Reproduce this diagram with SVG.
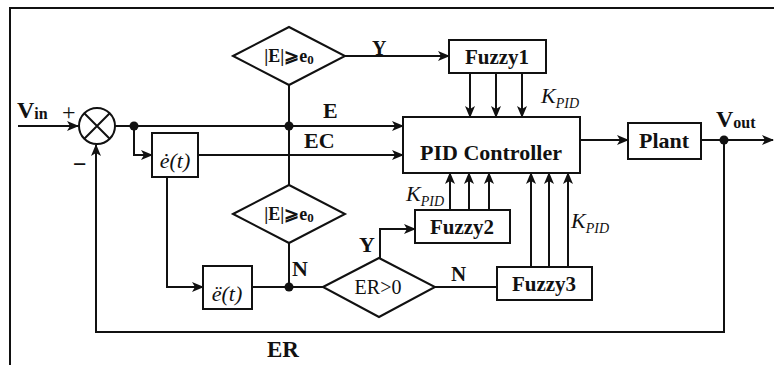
<svg xmlns="http://www.w3.org/2000/svg" width="774" height="365" viewBox="0 0 774 365">
<style>
.ln{fill:none;stroke:#111;stroke-width:2}
.bx{fill:#fff;stroke:#111;stroke-width:2}
.b{font-family:"Liberation Serif","Times New Roman","DejaVu Serif",serif;font-weight:bold;fill:#111}
.r{font-family:"Liberation Serif","Times New Roman","DejaVu Serif",serif;fill:#111}
.i{font-family:"Liberation Serif","Times New Roman","DejaVu Serif",serif;font-style:italic;fill:#111}
.dot{fill:#111}
</style>
<defs>
<marker id="a" viewBox="0 0 12 10" refX="11" refY="5" markerWidth="12" markerHeight="10" markerUnits="userSpaceOnUse" orient="auto">
<path d="M0,0 L12,5 L0,10 L3,5 z" fill="#111"/>
</marker>
</defs>
<rect width="774" height="365" fill="#fff"/>
<path class="ln" d="M10,365 V8 H774"/>

<g id="connectors">
<path class="ln" d="M18,126 H78" marker-end="url(#a)"/>
<path class="ln" d="M115,126 H403" marker-end="url(#a)"/>
<path class="ln" d="M134,126 V155 H152" marker-end="url(#a)"/>
<path class="ln" d="M198,155 H403" marker-end="url(#a)"/>
<path class="ln" d="M345,56 H449" marker-end="url(#a)"/>
<path class="ln" d="M289,85 V185"/>
<path class="ln" d="M289,243 V287"/>
<path class="ln" d="M167,177 V287 H203" marker-end="url(#a)"/>
<path class="ln" d="M252,287 H323"/>
<path class="ln" d="M380,258 V229 H415" marker-end="url(#a)"/>
<path class="ln" d="M435,287 H497"/>
<path class="ln" d="M470,73 V117" marker-end="url(#a)"/>
<path class="ln" d="M496,73 V117" marker-end="url(#a)"/>
<path class="ln" d="M522,73 V117" marker-end="url(#a)"/>
<path class="ln" d="M450,210 V173" marker-end="url(#a)"/>
<path class="ln" d="M469,210 V173" marker-end="url(#a)"/>
<path class="ln" d="M489,210 V173" marker-end="url(#a)"/>
<path class="ln" d="M531,267 V173" marker-end="url(#a)"/>
<path class="ln" d="M549,267 V173" marker-end="url(#a)"/>
<path class="ln" d="M568,267 V173" marker-end="url(#a)"/>
<path class="ln" d="M580,140 H628" marker-end="url(#a)"/>
<path class="ln" d="M701,140 H773" marker-end="url(#a)"/>
<path class="ln" d="M724,140 V332 H96 V145" marker-end="url(#a)"/>
<circle class="dot" cx="134" cy="126" r="4.5"/>
<circle class="dot" cx="289" cy="126" r="4.5"/>
<circle class="dot" cx="289" cy="287" r="4.5"/>
<circle class="dot" cx="724" cy="140" r="4.5"/>
</g>

<g id="labels">
<text class="b" x="17" y="118" font-size="24">V<tspan font-size="16" dy="1">in</tspan></text>
<text class="r" x="62" y="120" font-size="24">+</text>
<text class="b" x="73" y="172" font-size="24">−</text>
<text class="b" x="323" y="118" font-size="22">E</text>
<text class="b" x="304" y="148" font-size="22">EC</text>
<text class="b" x="372" y="55" font-size="20">Y</text>
<text class="b" x="292" y="276" font-size="22">N</text>
<text class="b" x="359" y="252" font-size="22">Y</text>
<text class="b" x="451" y="281" font-size="21">N</text>
<text class="b" x="267" y="357" font-size="23">ER</text>
<text class="b" x="716" y="127" font-size="24">V<tspan font-size="16" dy="1">out</tspan></text>
<text class="i" x="541" y="103" font-size="22">K<tspan font-size="14" dy="5">PID</tspan></text>
<text class="i" x="406" y="201" font-size="22">K<tspan font-size="14" dy="5">PID</tspan></text>
<text class="i" x="571" y="228" font-size="22">K<tspan font-size="14" dy="5">PID</tspan></text>
</g>

<g id="sum">
<circle class="bx" cx="97" cy="126" r="18"/>
<path class="ln" d="M84.3,113.3 L109.7,138.7 M109.7,113.3 L84.3,138.7"/>
</g>

<g id="cond1">
<polygon class="bx" points="233,56 289,27 345,56 289,85"/>
<text class="b" x="289" y="62" font-size="18" text-anchor="middle">|E|⩾e<tspan font-size="13" dy="2">0</tspan></text>
</g>

<g id="cond2">
<polygon class="bx" points="233,214 289,185 345,214 289,243"/>
<text class="b" x="289" y="220" font-size="18" text-anchor="middle">|E|⩾e<tspan font-size="13" dy="2">0</tspan></text>
</g>

<g id="cond3">
<polygon class="bx" points="323,287 379,258 435,287 379,317"/>
<text class="r" x="378" y="294" font-size="20" text-anchor="middle">ER&gt;0</text>
</g>

<g id="edot">
<rect class="bx" x="152" y="133" width="46" height="44"/>
<text class="i" x="175" y="168" font-size="22" text-anchor="middle">ė(t)</text>
</g>

<g id="eddot">
<rect class="bx" x="203" y="266" width="49" height="43"/>
<text class="i" x="227" y="301" font-size="22" text-anchor="middle">ë(t)</text>
</g>

<g id="fuzzy1">
<rect class="bx" x="449" y="40" width="97" height="33"/>
<text class="b" x="497" y="64" font-size="21" text-anchor="middle">Fuzzy1</text>
</g>

<g id="fuzzy2">
<rect class="bx" x="415" y="210" width="95" height="33"/>
<text class="b" x="462" y="234" font-size="21" text-anchor="middle">Fuzzy2</text>
</g>

<g id="fuzzy3">
<rect class="bx" x="497" y="267" width="95" height="33"/>
<text class="b" x="544" y="291" font-size="21" text-anchor="middle">Fuzzy3</text>
</g>

<g id="pid">
<rect class="bx" x="403" y="117" width="177" height="56"/>
<text class="b" x="491" y="160" font-size="22" text-anchor="middle">PID Controller</text>
</g>

<g id="plant">
<rect class="bx" x="628" y="123" width="73" height="36"/>
<text class="b" x="664" y="148" font-size="22" text-anchor="middle">Plant</text>
</g>
</svg>
